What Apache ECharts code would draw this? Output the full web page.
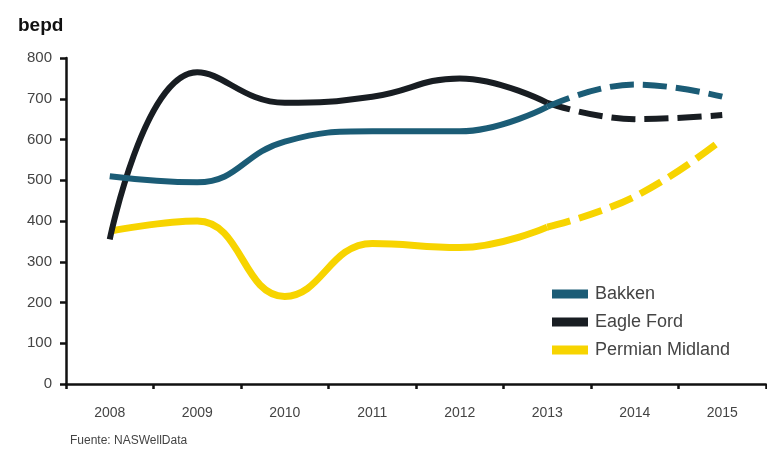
<!DOCTYPE html>
<html><head><meta charset="utf-8">
<script src="https://cdn.jsdelivr.net/npm/echarts@6/dist/echarts.min.js"></script>
<style>html,body{margin:0;padding:0;background:#fff}#c{width:767px;height:450px}</style>
</head><body><div id="c"></div>
<script>
var years = ['2008','2009','2010','2011','2012','2013','2014','2015'];
var yTicks = [0,100,200,300,400,500,600,700,800];
var bakken    = [510, 495, 595, 620, 620, 680, 735, 705];
var eagleFord = [355, 765, 690, 705, 750, 690, 650, 660];
var permian   = [375, 400, 215, 345, 335, 385, 460, 600];
var projFrom = 5; // index where projection (dashed) starts

var names = ['Bakken','Eagle Ford','Permian Midland'];
var colors = ['#1b5c76','#181d22','#f7d400'];
var widths = [6, 6, 7];
var all = [bakken, eagleFord, permian];

function part(arr, solid){
  return arr.map(function(v,i){
    if (solid) return i <= projFrom ? v : null;
    return i >= projFrom ? v : null;
  });
}
var series = [];
all.forEach(function(arr, k){
  series.push({name:names[k], type:'line', data:part(arr,true), smooth:0.45, showSymbol:false, symbol:'none',
    lineStyle:{color:colors[k], width:widths[k], cap:'butt'}, itemStyle:{color:colors[k]}, z:3-k});
  series.push({name:names[k]+' proj', type:'line', data:part(arr,false), smooth:0.45, showSymbol:false, symbol:'none',
    lineStyle:{color:colors[k], width:widths[k], type:[24,9], cap:'butt'}, itemStyle:{color:colors[k]}, z:3-k});
});

var chart = echarts.init(document.getElementById('c'), null, {renderer:'canvas'});
chart.setOption({
  animation:false,
  backgroundColor:'#fff',
  grid:{left:66, right:1, top:58, bottom:66},
  title:[
    {text:'bepd', left:13, top:11, textStyle:{fontFamily:'Liberation Sans', fontSize:19, fontWeight:'bold', color:'#111'}},
    {text:'Fuente: NASWellData', left:65, top:430, textStyle:{fontFamily:'Liberation Sans', fontSize:12, fontWeight:'normal', color:'#444'}}
  ],
  legend:{
    data:names, orient:'vertical', left:547, top:280, itemWidth:36, itemHeight:9, itemGap:10,
    icon:'rect',
    textStyle:{fontFamily:'Liberation Sans', fontSize:18, color:'#444', padding:[0,0,0,2]}
  },
  xAxis:{
    type:'category', data:years, boundaryGap:true,
    axisLine:{lineStyle:{color:'#111', width:2.5}},
    axisTick:{show:true, inside:false, length:5, lineStyle:{color:'#111', width:2.5}},
    axisLabel:{fontFamily:'Liberation Sans', fontSize:14, color:'#444', margin:22}
  },
  yAxis:{
    type:'value', min:0, max:800, interval:100,
    axisLine:{show:true, lineStyle:{color:'#111', width:2.5}},
    axisTick:{show:true, length:6, lineStyle:{color:'#111', width:2.5}},
    splitLine:{show:false},
    axisLabel:{fontFamily:'Liberation Sans', fontSize:15, color:'#444', margin:14,
      formatter:function(v){return yTicks.indexOf(v)>=0 ? String(v) : '';}}
  },
  series:series
});
</script></body></html>
